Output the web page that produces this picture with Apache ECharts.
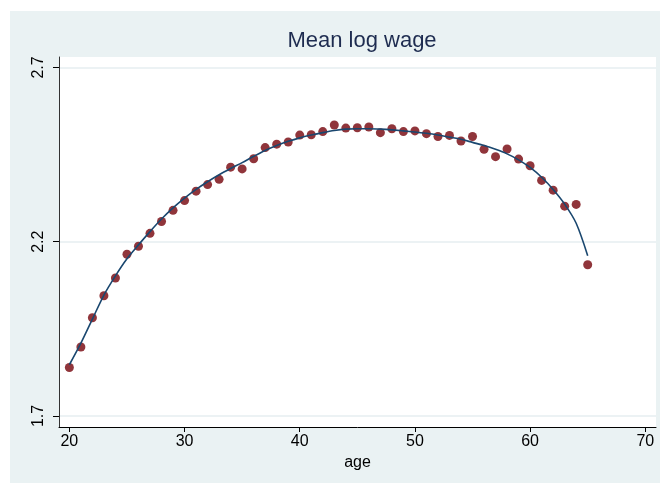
<!DOCTYPE html>
<html>
<head>
<meta charset="utf-8">
<script src="https://cdn.jsdelivr.net/npm/echarts@6/dist/echarts.min.js"></script>
<style>
html,body{margin:0;padding:0;background:#ffffff;}
#chart{width:660px;height:484px;}
</style>
</head>
<body>
<div id="chart"></div>
<script>
// Ages (x values)
var ages = [20,21,22,23,24,25,26,27,28,29,30,31,32,33,34,35,36,37,38,39,40,41,42,43,44,45,46,47,48,49,50,51,52,53,54,55,56,57,58,59,60,61,62,63,64,65];
// Mean log wage by age (scatter points)
var meanLogWage = [1.839,1.898,1.982,2.045,2.096,2.164,2.187,2.224,2.258,2.290,2.318,2.345,2.364,2.379,2.414,2.409,2.438,2.470,2.480,2.486,2.506,2.507,2.516,2.535,2.526,2.527,2.529,2.513,2.524,2.516,2.518,2.510,2.502,2.505,2.489,2.502,2.465,2.444,2.466,2.437,2.418,2.376,2.348,2.302,2.307,2.134];
// Fitted curve
var fittedLogWage = [1.847,1.909,1.978,2.047,2.102,2.151,2.191,2.229,2.265,2.297,2.325,2.350,2.372,2.392,2.410,2.427,2.445,2.462,2.476,2.488,2.498,2.506,2.513,2.519,2.523,2.524,2.524,2.523,2.521,2.518,2.515,2.511,2.506,2.500,2.494,2.485,2.476,2.465,2.452,2.435,2.413,2.385,2.350,2.308,2.253,2.160];
// Tick labels
var xTicks = [20,30,40,50,60,70];
var yTicks = [1.7,2.2,2.7];

var FONT = 'Liberation Sans, Arial, sans-serif';
var scatterData = ages.map(function(a,i){return [a, meanLogWage[i]];});
var lineData = ages.map(function(a,i){return [a, fittedLogWage[i]];});

var chart = echarts.init(document.getElementById('chart'), null, {renderer:'canvas'});
chart.setOption({
  animation:false,
  backgroundColor:'#ffffff',
  graphic:[{
    type:'rect', z:-10, silent:true,
    shape:{x:10,y:11,width:650,height:472},
    style:{fill:'#eaf2f3'}
  }],
  title:{
    text:'Mean log wage',
    left:357, top:25, textAlign:'center',
    textStyle:{fontFamily:FONT,fontSize:22,fontWeight:'normal',color:'#1e2c50'}
  },
  grid:{left:59,right:4,top:57,bottom:57,show:true,backgroundColor:'#ffffff',borderWidth:0,containLabel:false},
  xAxis:{
    type:'value', min:19.1, max:70.93,
    name:'age', nameLocation:'middle', nameGap:25,
    nameTextStyle:{fontFamily:FONT,fontSize:16,color:'#000'},
    axisLine:{show:true,onZero:false,lineStyle:{color:'#000',width:1}},
    axisTick:{show:true,length:5,customValues:xTicks,lineStyle:{color:'#000'}},
    axisLabel:{show:true,margin:7,customValues:xTicks,fontFamily:FONT,fontSize:16,color:'#000'},
    splitLine:{show:false}
  },
  yAxis:{
    type:'value', min:1.6684, max:2.730,
    axisLine:{show:true,onZero:false,lineStyle:{color:'#333',width:1}},
    axisTick:{show:true,length:6,customValues:yTicks,lineStyle:{color:'#000'}},
    axisLabel:{show:true,margin:12,rotate:90,customValues:yTicks,fontFamily:FONT,fontSize:16,color:'#000',
      formatter:function(v){return v.toFixed(1);}},
    splitLine:{show:false}
  },
  series:[
    {
      type:'line', data:[], z:0, silent:true,
      markLine:{silent:true,z:0,zlevel:0,symbol:['none','none'],label:{show:false},
        lineStyle:{type:'solid',color:'#e6eef0',width:1.5},
        data:yTicks.map(function(v){return {yAxis:v};})}
    },
    {
      type:'scatter', data:scatterData, symbol:'circle', symbolSize:9, z:3,
      itemStyle:{color:'#90353b',opacity:1}
    },
    {
      type:'line', data:lineData, showSymbol:false, smooth:0.3, z:4,
      lineStyle:{color:'#1a476f',width:1.6}
    }
  ]
});
</script>
</body>
</html>
